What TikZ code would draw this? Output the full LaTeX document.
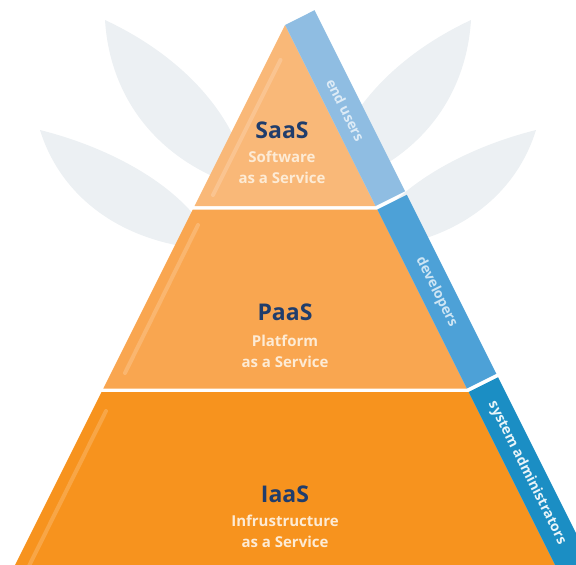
\documentclass[tikz,border=0pt]{standalone}
\usepackage{fontspec}
\setmainfont{Open Sans}
\usetikzlibrary{positioning}
\def\stripW{33}

\definecolor{saasC}{HTML}{F9B878}
\definecolor{paasC}{HTML}{F9A650}
\definecolor{iaasC}{HTML}{F7931E}
\definecolor{usersC}{HTML}{8FBDE2}
\definecolor{devC}{HTML}{4DA1D7}
\definecolor{adminC}{HTML}{1B8EC4}
\definecolor{navy}{HTML}{203D6C}
\definecolor{cream}{HTML}{FDEBD5}
\definecolor{markC}{HTML}{ECF0F3}

\begin{document}
\begin{tikzpicture}[x=1pt,y=-1pt,
    title/.style={font=\bfseries\fontsize{23}{23}\selectfont, text=navy},
    sub/.style={font=\bfseries\fontsize{15}{21}\selectfont, text=cream, align=center},
    role/.style={font=\bfseries\fontsize{14}{14}\selectfont, rotate=-63.43},
    gloss/.style={line width=4pt, line cap=round, draw=white, opacity=.18},
    leaf/.style={fill=markC},
  ]

    \useasboundingbox (0,0) rectangle (576,565);
    \clip (0,0) rectangle (576,565);

    % faint leaves behind
    \fill[leaf] (250,190) .. controls (160,165) and (110,100) .. (105,20) .. controls (180,55) and (240,115) .. (250,190);
    \fill[leaf] (215,250) .. controls (120,245) and (60,195) .. (40,130) .. controls (120,150) and (195,195) .. (215,250);
    \fill[leaf] (326,190) .. controls (416,165) and (466,100) .. (471,20) .. controls (396,55) and (336,115) .. (326,190);
    \fill[leaf] (361,250) .. controls (456,245) and (516,195) .. (536,130) .. controls (456,150) and (381,195) .. (361,250);

    % corners of the tiers
    \coordinate (A) at (285,25);
    \coordinate (B0) at (194.5,206);   \coordinate (B1) at (375.5,206);
    \coordinate (C0) at (192.75,209.5); \coordinate (C1) at (377.25,209.5);
    \coordinate (D0) at (103.25,388.5); \coordinate (D1) at (466.75,388.5);
    \coordinate (E0) at (101.5,392);   \coordinate (E1) at (468.5,392);
    \coordinate (F0) at (10,575);      \coordinate (F1) at (560,575);

    \fill[saasC] (A) -- (B1) -- (B0) -- cycle;
    \fill[paasC] (C0) -- (C1) -- (D1) -- (D0) -- cycle;
    \fill[iaasC] (E0) -- (E1) -- (F1) -- (F0) -- cycle;

    % outer corners of the side strips
    \path (A) ++(-26.57:\stripW) coordinate (a);
    \path (B1) ++(-26.57:\stripW) coordinate (b1);
    \path (C1) ++(-26.57:\stripW) coordinate (c1);
    \path (D1) ++(-26.57:\stripW) coordinate (d1);
    \path (E1) ++(-26.57:\stripW) coordinate (e1);
    \path (F1) ++(-26.57:\stripW) coordinate (f1);

    \fill[usersC] (A) -- (B1) -- (b1) -- (a) -- cycle;
    \fill[devC] (C1) -- (D1) -- (d1) -- (c1) -- cycle;
    \fill[adminC] (E1) -- (F1) -- (f1) -- (e1) -- cycle;

    % soft highlights along the left side
    \draw[gloss] (280.5,60) -- (213,195);
    \draw[gloss] (198,225) -- (125,373);
    \draw[gloss] (106,411) -- (28,568);

    \node[title] (saas) at (282,130) {SaaS};
    \node[sub] (saasS) at (282,167) {Software\\as a Service};
    \node[title] (paas) at (285,312) {PaaS};
    \node[sub] (paasS) at (285,351) {Platform\\as a Service};
    \node[title] (iaas) at (285,494) {IaaS};
    \node[sub] (iaasS) at (285,531) {Infrustructure\\as a Service};

    \node[role, text=usersC!30!white] (users) at (345.5,110) {end users};
    \node[role, text=devC!28!white] (dev) at (436.5,292) {developers};
    \node[role, text=adminC!10!white] (admin) at (527,473) {system administrators};
\end{tikzpicture}
\end{document}
